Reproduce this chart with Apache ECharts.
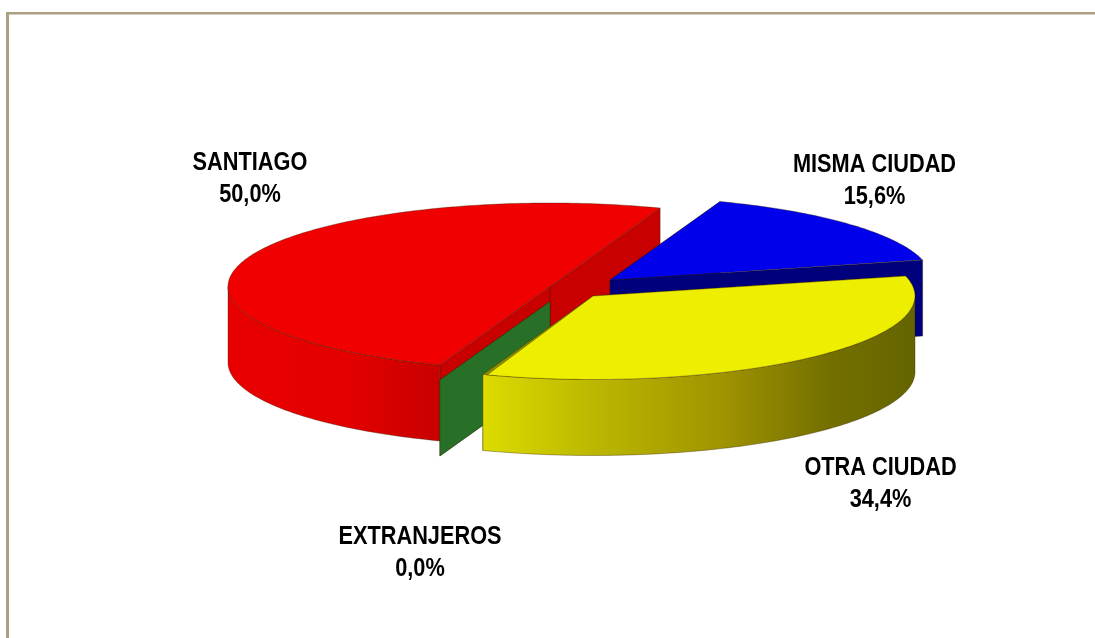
<!DOCTYPE html>
<html>
<head>
<meta charset="utf-8">
<style>
  html, body { margin: 0; padding: 0; background: #fff; }
  #chart { width: 1095px; height: 638px; }
</style>
<script src="https://cdn.jsdelivr.net/npm/echarts@6/dist/echarts.min.js"></script>
</head>
<body>
<div id="chart"></div>
<script>
// data, clockwise from the back edge of SANTIAGO
const categories = ['SANTIAGO', 'MISMA CIUDAD', 'OTRA CIUDAD', 'EXTRANJEROS'];
const shares = [50.0, 15.6, 34.4, 0.0];

// pie drawing settings
const center = [550, 286.5];
const radiusX = 322;
const radiusY = 83.5;
const depth = 76;
const startAngle = 110;

const sliceStyles = {
  'SANTIAGO': {
    move: [0, 0], z: 1, top: '#f00000', cut: '#c80000',
    wall: [[0, '#e80000'], [0.55, '#e40000'], [0.8, '#d40000'], [1, '#c80000']],
    label: [250, 179]
  },
  'MISMA CIUDAD': {
    move: [60, -6.5], z: 3, top: '#0000ea', cut: '#00007c',
    wall: [[0, '#00007c'], [1, '#00007c']],
    label: [874.5, 181.5]
  },
  'OTRA CIUDAD': {
    move: [43, 9.5], z: 4, top: '#eeee00', cut: '#8c8c00',
    wall: [[0, '#dcdc00'], [0.25, '#bcb800'], [0.55, '#a09400'], [0.8, '#747000'], [1, '#646400']],
    label: [880.5, 484]
  },
  'EXTRANJEROS': {
    move: [0, 15], z: 2, top: '#287028', cut: '#287028',
    wall: [[0, '#287028'], [1, '#287028']],
    label: [420, 553.5]
  }
};

function rimPoint(cx, cy, deg, drop) {
  const a = deg * Math.PI / 180;
  return [cx + radiusX * Math.cos(a), cy + radiusY * Math.sin(a) + drop];
}

function arcPoints(cx, cy, from, to, drop) {
  let pts = [];
  for (let d = from; d <= to + 0.001; d += 1) {
    pts.push(rimPoint(cx, cy, Math.min(d, to), drop));
  }
  return pts;
}

function flatFace(points, fill, z2) {
  return {
    type: 'polygon',
    z2: z2,
    shape: { points: points },
    style: { fill: fill, stroke: 'rgba(50,30,0,0.45)', lineWidth: 0.8 }
  };
}

function renderSlice(params, api) {
  const idx = params.dataIndex;
  const name = categories[idx];
  const s = sliceStyles[name];
  let before = 0;
  for (let i = 0; i < idx; i++) before += shares[i];
  const from = startAngle + before * 3.6;
  const to = from + api.value(0) * 3.6;
  const cx = center[0] + s.move[0];
  const cy = center[1] + s.move[1];
  let children = [];

  // straight cut faces, hanging below each edge of the slice
  [from, to].forEach(function (deg, n) {
    const edge = rimPoint(cx, cy, deg, 0);
    const a = [cx, cy], b = edge;
    children.push(flatFace(
      [a, b, [b[0], b[1] + depth], [a[0], a[1] + depth]],
      s.cut, s.z * 10 + n
    ));
  });

  // outer wall, only the front half of the rim can be seen
  let wallFrom = from, wallTo = Math.min(to, 180);
  if (from > 180) { wallFrom = Math.max(from, 360); wallTo = Math.min(to, 540); }
  if (wallTo > wallFrom) {
    const upper = arcPoints(cx, cy, wallFrom, wallTo, 0);
    const lower = arcPoints(cx, cy, wallFrom, wallTo, depth).reverse();
    children.push({
      type: 'polygon',
      z2: s.z * 10 + 2,
      shape: { points: upper.concat(lower) },
      style: {
        fill: {
          type: 'linear', x: 0, y: 0, x2: 1, y2: 0,
          colorStops: s.wall.map(function (c) { return { offset: c[0], color: c[1] }; })
        },
        stroke: 'rgba(50,30,0,0.45)', lineWidth: 0.8
      }
    });
  }

  // top surface
  if (to > from) {
    children.push(flatFace([[cx, cy]].concat(arcPoints(cx, cy, from, to, 0)), s.top, s.z * 10 + 3));
  }

  // label
  const pct = api.value(0).toFixed(1).replace('.', ',') + '%';
  children.push({
    type: 'text',
    x: s.label[0],
    y: s.label[1],
    scaleX: 0.87,
    z2: 100,
    style: {
      text: name + '\n' + pct,
      fill: '#000',
      font: 'bold 25px "Liberation Sans", Arial, sans-serif',
      lineHeight: 32,
      align: 'center',
      verticalAlign: 'middle'
    }
  });
  return { type: 'group', children: children };
}

const myChart = echarts.init(document.getElementById('chart'), null, { renderer: 'canvas' });
const option = {
  animation: false,
  backgroundColor: '#ffffff',
  graphic: [
    { type: 'rect', shape: { x: 6, y: 12, width: 1089, height: 2.5 }, style: { fill: '#aca083' } },
    { type: 'rect', shape: { x: 6, y: 12, width: 3, height: 626 }, style: { fill: '#aca083' } }
  ],
  series: [{
    type: 'custom',
    coordinateSystem: 'none',
    renderItem: renderSlice,
    data: shares.map(function (v) { return [v]; })
  }]
};
myChart.setOption(option);
</script>
</body>
</html>
